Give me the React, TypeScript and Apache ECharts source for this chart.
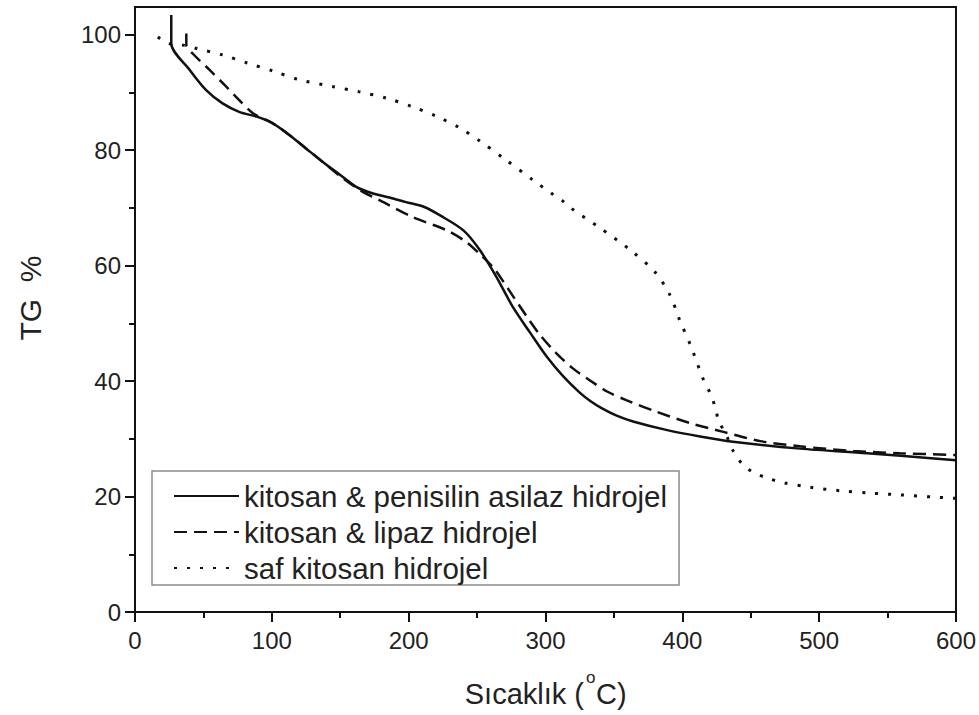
import React, { useEffect, useRef } from "react";
import * as echarts from "echarts";

// TG curves (temperature °C, mass %)
const penisilinAsilaz: [number, number][] = [
  [26.5, 103.4], [26.5, 98.5], [40, 93.9], [52, 90.4], [64, 88.1], [76.5, 86.6],
  [89, 85.8], [101, 84.6], [113, 82.6], [125, 80.3], [137, 78.0], [150, 75.7],
  [162, 73.6], [174, 72.5], [186, 71.8], [198, 71.0], [211, 70.2], [223, 68.7],
  [240, 66.1], [252, 62.7], [264, 58.1], [276, 52.9], [289, 48.3], [301, 44.2],
  [313, 40.8], [325, 38.0], [333, 36.5], [341, 35.3], [352, 34.0], [364, 33.0],
  [389, 31.5], [413, 30.4], [437, 29.5], [486, 28.3], [535, 27.5], [584, 26.6],
  [600, 26.3],
];

const lipaz: [number, number][] = [
  [37.5, 100.2], [37.5, 98.2], [42.3, 96.7], [54.5, 93.9], [66.7, 91.0], [76.5, 88.6],
  [86.2, 86.4], [101, 84.6], [113, 82.6], [125, 80.3], [137, 78.0], [150, 75.5],
  [165, 73.0], [179, 71.3], [203, 68.4], [228, 66.1], [242, 64.1], [252, 62.0],
  [262, 59.6], [269, 57.3], [276, 54.8], [286, 51.3], [296, 48.0], [308, 44.8],
  [320, 42.2], [332, 40.2], [345, 38.2], [359, 36.7], [381, 34.7], [406, 32.7],
  [430, 31.2], [457, 29.6], [486, 28.7], [525, 27.9], [559, 27.5], [600, 27.2],
];

const safKitosan: [number, number][] = [
  [16.7, 99.6], [24, 98.5], [35, 98.2], [45, 97.6], [64, 96.5], [82, 95.1],
  [101, 93.7], [120, 92.2], [145, 91.0], [164, 90.1], [184, 89.0], [203, 87.5],
  [220, 85.9], [237, 83.9], [252, 81.6], [270, 78.5], [291, 74.8], [304.5, 72.5],
  [312, 71.3], [319, 69.9], [340, 66.5], [362, 62.7], [380, 58.9], [391, 54.9],
  [398, 50.6], [406, 46.2], [415.5, 40.2], [420.4, 37.9], [424, 35.5], [426.5, 33.2],
  [432.6, 30.4], [437.4, 27.8], [443.6, 25.7], [451, 24.3], [462, 23.2], [474, 22.4],
  [493.5, 21.6], [515.5, 21.0], [537, 20.6], [559, 20.3], [584, 19.9], [600, 19.7],
];

const seriesNames = [
  "kitosan & penisilin asilaz hidrojel",
  "kitosan & lipaz hidrojel",
  "saf kitosan hidrojel",
];

const yMajorTicks = [0, 20, 40, 60, 80, 100];
const yMinorTicks = [10, 30, 50, 70, 90];

const FONT = "'Liberation Sans', Arial, Helvetica, sans-serif";
const INK = "#111";
const TEXT = "#222";

export default function App() {
  const ref = useRef<HTMLDivElement>(null);

  useEffect(() => {
    if (!ref.current) return;
    const chart = echarts.init(ref.current, null, { renderer: "svg" });

    const lineBase = { type: "line" as const, symbol: "none", smooth: 0.3, z: 3 };

    chart.setOption({
      animation: false,
      backgroundColor: "#ffffff",
      grid: {
        left: 135,
        right: 23,
        top: 7,
        bottom: 103,
        show: true,
        borderColor: INK,
        borderWidth: 2,
        backgroundColor: "transparent",
      },
      xAxis: {
        type: "value",
        min: 0,
        max: 600,
        interval: 100,
        axisLine: { lineStyle: { color: INK, width: 2 } },
        axisTick: { length: 10, lineStyle: { color: INK, width: 2 } },
        minorTick: { show: true, splitNumber: 2, length: 6, lineStyle: { color: INK, width: 2 } },
        axisLabel: { fontSize: 24, color: TEXT, fontFamily: FONT, margin: 16 },
        splitLine: { show: false },
      },
      yAxis: [
        {
          type: "value",
          min: 0,
          max: 104.8,
          axisLine: { show: true, lineStyle: { color: INK, width: 2 } },
          axisTick: { show: true, length: 10, customValues: yMajorTicks, lineStyle: { color: INK, width: 2 } },
          axisLabel: { fontSize: 24, color: TEXT, fontFamily: FONT, margin: 14, customValues: yMajorTicks },
          splitLine: { show: false },
        },
        {
          type: "value",
          min: 0,
          max: 104.8,
          position: "left",
          axisLine: { show: false },
          axisTick: { show: true, length: 6, customValues: yMinorTicks, lineStyle: { color: INK, width: 2 } },
          axisLabel: { show: false },
          splitLine: { show: false },
        },
      ],
      legend: {
        orient: "vertical",
        left: 152,
        top: 471,
        padding: [10, 12, 2, 21],
        itemGap: 6,
        itemWidth: 65,
        itemHeight: 14,
        itemTextGap: 9,
        borderColor: "#8c8c8c",
        borderWidth: 1.5,
        backgroundColor: "#ffffff",
        itemStyle: { opacity: 0 },
        textStyle: { fontSize: 29.5, color: TEXT, fontFamily: FONT },
        data: seriesNames,
      },
      series: [
        {
          ...lineBase,
          name: seriesNames[0],
          data: penisilinAsilaz,
          lineStyle: { color: INK, width: 2.5, type: "solid" },
          itemStyle: { color: INK },
        },
        {
          ...lineBase,
          name: seriesNames[1],
          data: lipaz,
          lineStyle: { color: INK, width: 2.5, type: [13, 7] },
          itemStyle: { color: INK },
        },
        {
          ...lineBase,
          name: seriesNames[2],
          data: safKitosan,
          lineStyle: { color: INK, width: 3, type: [3, 10] },
          itemStyle: { color: INK },
        },
      ],
      graphic: [
        {
          type: "text",
          x: 30,
          y: 298,
          rotation: Math.PI / 2,
          style: {
            text: "TG  %",
            fontSize: 30,
            fontFamily: FONT,
            fill: TEXT,
            align: "center",
            verticalAlign: "middle",
          },
        },
        {
          type: "text",
          x: 584,
          y: 694,
          style: {
            text: "Sıcaklık (",
            fontSize: 29,
            fontFamily: FONT,
            fill: TEXT,
            align: "right",
            verticalAlign: "middle",
          },
        },
        {
          type: "text",
          x: 586,
          y: 677,
          style: {
            text: "o",
            fontSize: 17,
            fontFamily: FONT,
            fill: TEXT,
            align: "left",
            verticalAlign: "middle",
          },
        },
        {
          type: "text",
          x: 596,
          y: 694,
          style: {
            text: "C)",
            fontSize: 29,
            fontFamily: FONT,
            fill: TEXT,
            align: "left",
            verticalAlign: "middle",
          },
        },
      ],
    });

    return () => chart.dispose();
  }, []);

  return (
    <div
      ref={ref}
      style={{ position: "fixed", left: 0, top: 0, width: 979, height: 715, background: "#fff" }}
    />
  );
}
